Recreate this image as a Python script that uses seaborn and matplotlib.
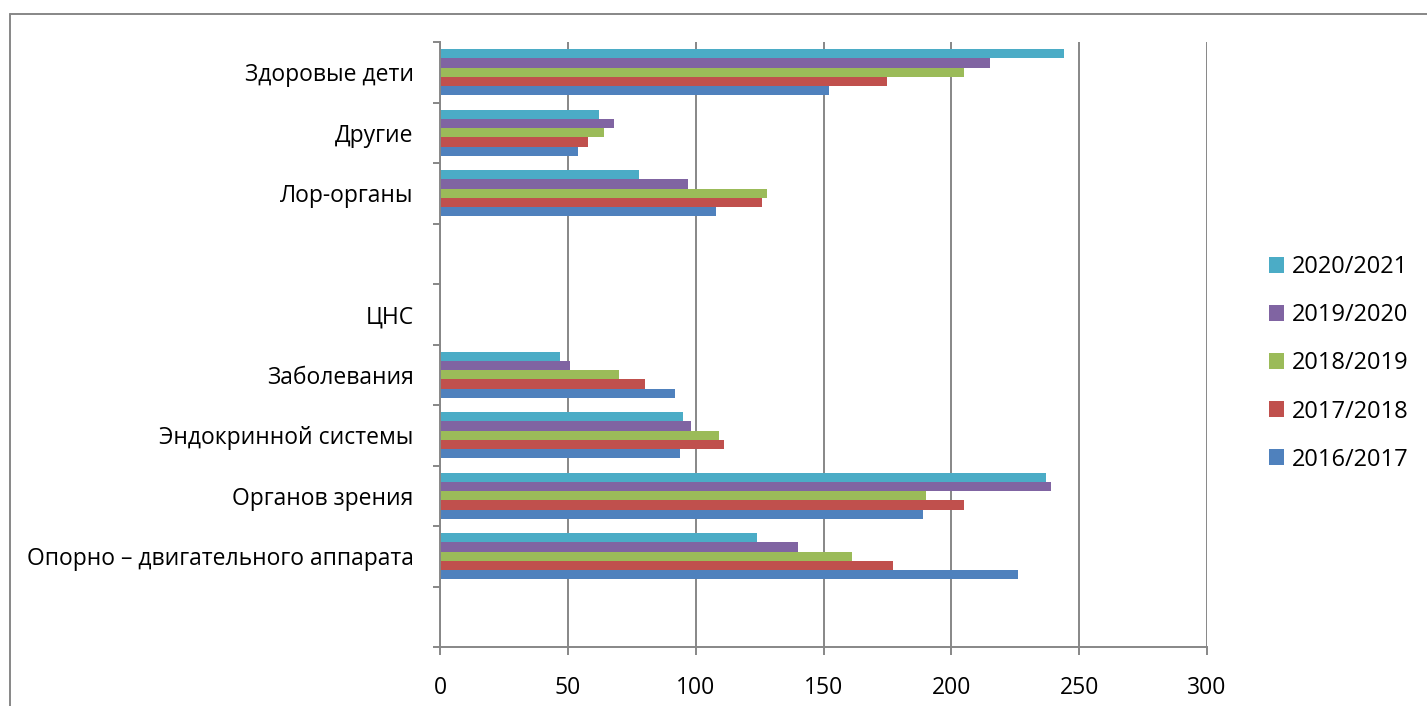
import numpy as np
import pandas as pd
import matplotlib.pyplot as plt
import seaborn as sns
from matplotlib.lines import Line2D
from matplotlib.ticker import FixedLocator

# категории сверху вниз (пустые строки - пустые слоты на оси)
categories = ["Здоровые дети", "Другие", "Лор-органы", " ", "ЦНС", "Заболевания",
              "Эндокринной системы", "Органов зрения",
              "Опорно – двигательного аппарата", "  "]
years = ["2020/2021", "2019/2020", "2018/2019", "2017/2018", "2016/2017"]

v_2020_2021 = [244, 62, 78, None, None, 47, 95, 237, 124, None]
v_2019_2020 = [215, 68, 97, None, None, 51, 98, 239, 140, None]
v_2018_2019 = [205, 64, 128, None, None, 70, 109, 190, 161, None]
v_2017_2018 = [175, 58, 126, None, None, 80, 111, 205, 177, None]
v_2016_2017 = [152, 54, 108, None, None, 92, 94, 189, 226, None]

colors = ["#4BACC6", "#8064A2", "#9BBB59", "#C0504D", "#4F81BD"]
x_ticks = [0, 50, 100, 150, 200, 250, 300]

series = [v_2020_2021, v_2019_2020, v_2018_2019, v_2017_2018, v_2016_2017]
rows = []
for yr, vals in zip(years, series):
    for cat, v in zip(categories, vals):
        if v is not None:
            rows.append({'Категория': cat, 'Год': yr, 'Значение': v})
df = pd.DataFrame(rows)

sns.set_style('white')
plt.rcParams['font.family'] = ['Open Sans', 'DejaVu Sans']
plt.rcParams['text.color'] = 'black'
plt.rcParams['xtick.color'] = 'black'
plt.rcParams['ytick.color'] = 'black'

GRAY = '#878787'
FS = 16.5
W, H = 1427, 706
fig = plt.figure(figsize=(W / 100, H / 100), dpi=100)
ax = fig.add_axes([440 / W, 1 - 647 / H, (1207 - 440) / W, (647 - 42) / H])

sns.barplot(data=df, x='Значение', y='Категория', hue='Год', order=categories,
            hue_order=years, palette=dict(zip(years, colors)), orient='h',
            width=0.76, errorbar=None, linewidth=0, saturation=1, ax=ax)

ax.set_xlim(0, 300)
ax.set_ylim(len(categories) - 0.5, -0.5)
ax.set_xticks(x_ticks)
ax.set_xticklabels([str(t) for t in x_ticks])
ax.set_xlabel('')
ax.set_ylabel('')

ax.set_axisbelow(True)
ax.xaxis.grid(True, color=GRAY, linewidth=1.4)
ax.yaxis.grid(False)
for s in ['top', 'right']:
    ax.spines[s].set_visible(False)
for s in ['left', 'bottom']:
    ax.spines[s].set_color(GRAY)
    ax.spines[s].set_linewidth(1.4)

ax.yaxis.set_minor_locator(FixedLocator(np.arange(-0.5, len(categories), 1)))
ax.tick_params(axis='y', which='major', length=0, pad=19, labelsize=FS,
               labelcolor='black')
ax.tick_params(axis='y', which='minor', length=5, width=1.4, color=GRAY, left=True)
ax.tick_params(axis='x', which='major', length=6, width=1.4, color=GRAY,
               bottom=True, pad=15, labelsize=FS, labelcolor='black')

# легенда справа
handles, labels = ax.get_legend_handles_labels()
leg = ax.legend(handles, labels, loc='center left',
                bbox_to_anchor=(1269 / W, 1 - 363.5 / H), bbox_transform=fig.transFigure,
                frameon=False, fontsize=17, borderpad=0, borderaxespad=0,
                handlelength=0.65, handleheight=0.65, handletextpad=0.3,
                labelspacing=1.02)
for t in leg.get_texts():
    t.set_color('black')

# рамка диаграммы
fig.add_artist(Line2D([10 / W, 1], [1 - 13.5 / H] * 2, transform=fig.transFigure,
                      color=GRAY, linewidth=1.4))
fig.add_artist(Line2D([10 / W] * 2, [0, 1 - 13.5 / H], transform=fig.transFigure,
                      color=GRAY, linewidth=1.4))

fig.savefig('out.png', dpi=100)
